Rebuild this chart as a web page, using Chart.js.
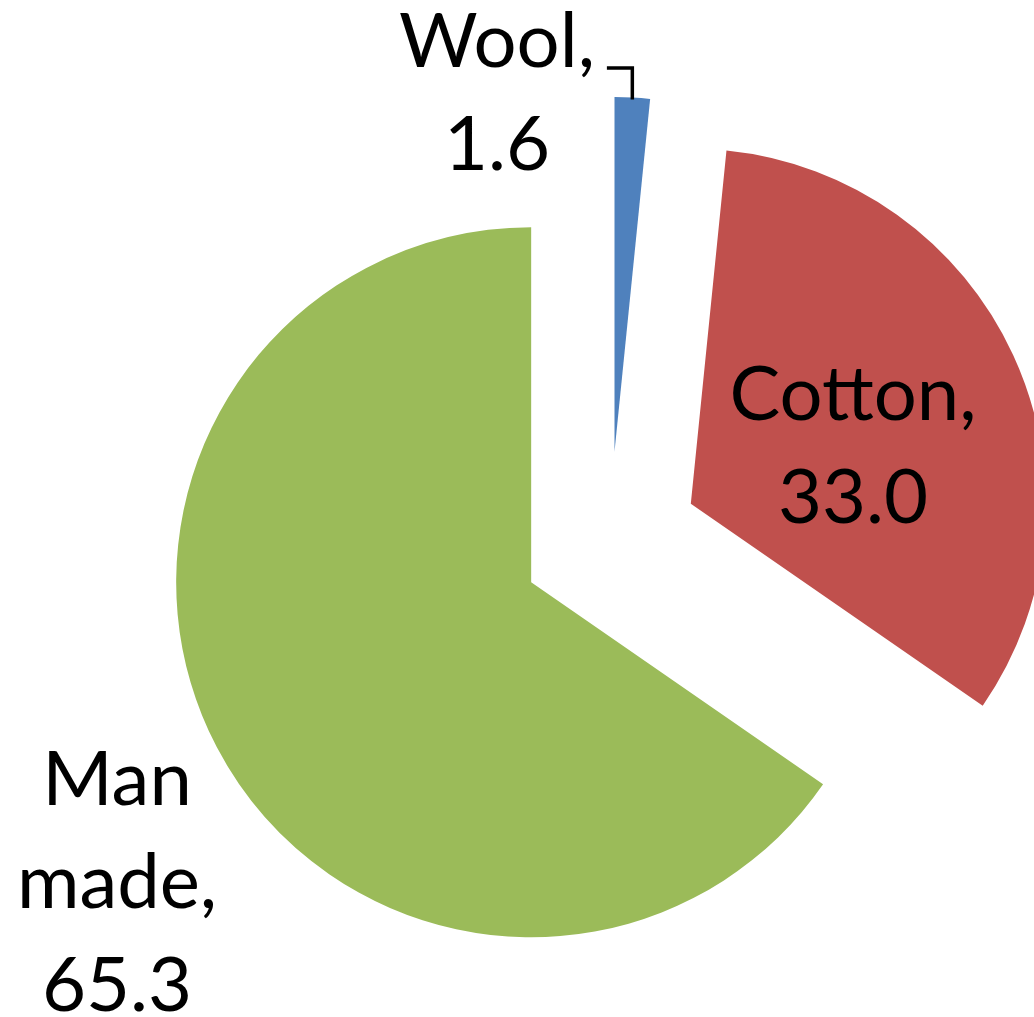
<!DOCTYPE html>
<html lang="en">
<head>
    <meta charset="UTF-8">
    <title>Fibre consumption share</title>
    <script src="https://cdn.jsdelivr.net/npm/chart.js"></script>
    <style>
        html, body { margin: 0; padding: 0; background: #ffffff; }
        canvas { display: block; }
    </style>
</head>
<body>
    <canvas id="fibreChart" width="1034" height="1017"></canvas>

    <script>
        // Data
        const categories = ['Wool', 'Cotton', 'Man made'];
        const shares = [1.6, 33.0, 65.3];

        // Styles
        const sliceColors = ['#4F81BD', '#C0504D', '#9BBB59'];
        const pieRadius = 355;
        const explode = 89;
        const labelFont = '76px Lato';
        const lineHeight = 103;
        // label anchor: centre x and first baseline y
        const labelSpots = [
            { x: 497, y: 67, leader: true },
            { x: 853, y: 420 },
            { x: 117, y: 805 },
        ];

        const ctx = document.getElementById('fibreChart').getContext('2d');

        // push every slice outward along its middle angle
        const explodePlugin = {
            id: 'explodeSlices',
            beforeDatasetsDraw(chart) {
                chart.getDatasetMeta(0).data.forEach((arc) => {
                    if (arc._exploded) return;
                    const baseDraw = Object.getPrototypeOf(arc).draw;
                    arc.draw = function (c) {
                        const mid = (this.startAngle + this.endAngle) / 2;
                        c.save();
                        c.translate(Math.cos(mid) * explode, Math.sin(mid) * explode);
                        baseDraw.call(this, c);
                        c.restore();
                    };
                    arc._exploded = true;
                });
            },
        };

        // "Category, value" labels, Wool gets a leader line
        const labelPlugin = {
            id: 'sliceLabels',
            afterDatasetsDraw(chart) {
                const c = chart.ctx;
                const arcs = chart.getDatasetMeta(0).data;
                c.save();
                c.font = labelFont;
                c.fillStyle = '#000000';
                c.textAlign = 'center';
                c.textBaseline = 'alphabetic';
                categories.forEach((cat, i) => {
                    const spot = labelSpots[i];
                    const lines = (cat + ',').split(' ').concat(shares[i].toFixed(1));
                    lines.forEach((line, j) => {
                        c.fillText(line, spot.x, spot.y + j * lineHeight);
                    });
                    if (spot.leader) {
                        const arc = arcs[i];
                        const mid = (arc.startAngle + arc.endAngle) / 2;
                        const ex = arc.x + Math.cos(mid) * (explode + arc.outerRadius);
                        const ey = arc.y + Math.sin(mid) * (explode + arc.outerRadius);
                        const sx = spot.x + c.measureText(lines[0]).width / 2 + 12;
                        c.beginPath();
                        c.strokeStyle = '#000000';
                        c.lineWidth = 3.5;
                        c.moveTo(sx, spot.y + 1);
                        c.lineTo(ex, spot.y + 1);
                        c.lineTo(ex, ey + 2);
                        c.stroke();
                    }
                });
                c.restore();
            },
        };

        const chart = new Chart(ctx, {
            type: 'pie',
            data: {
                labels: categories,
                datasets: [{
                    data: shares,
                    backgroundColor: sliceColors,
                    borderWidth: 0,
                    hoverOffset: 0,
                    clip: false,
                }],
            },
            options: {
                responsive: false,
                animation: false,
                radius: pieRadius,
                layout: { padding: { left: 186, top: 65, right: 0, bottom: 0 } },
                plugins: {
                    legend: { display: false },
                    tooltip: { enabled: false },
                },
                events: [],
            },
            plugins: [explodePlugin, labelPlugin],
        });
    </script>
</body>
</html>
